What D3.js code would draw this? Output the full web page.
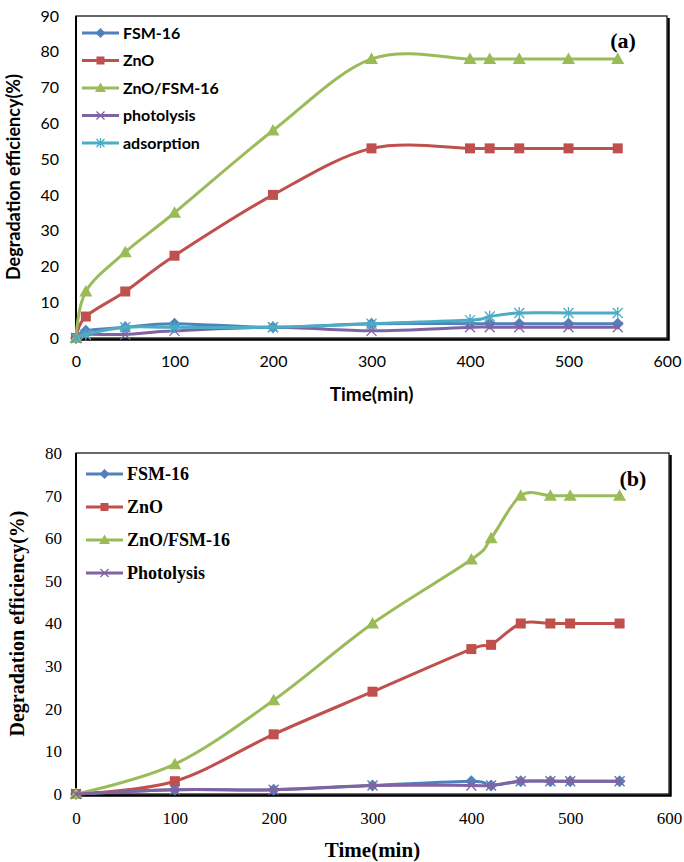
<!DOCTYPE html>
<html><head><meta charset="utf-8">
<script src="https://cdn.jsdelivr.net/npm/d3@7"></script>
<style>body{margin:0;background:#fff}svg{display:block}</style>
</head><body>
<svg id="c" width="684" height="862"></svg>
<script>
// ---------- DATA ----------
const timeA = [0, 10, 50, 100, 200, 300, 400, 420, 450, 500, 550];
const fsmA = [0, 2, 3, 4, 3, 4, 4, 4, 4, 4, 4];
const znoA = [0, 6, 13, 23, 40, 53, 53, 53, 53, 53, 53];
const znoFsmA = [0, 13, 24, 35, 58, 78, 78, 78, 78, 78, 78];
const photoA = [0, 1, 1, 2, 3, 2, 3, 3, 3, 3, 3];
const adsA = [0, 1, 3, 3, 3, 4, 5, 6, 7, 7, 7];
const namesA = ["FSM-16", "ZnO", "ZnO/FSM-16", "photolysis", "adsorption"];

const timeB = [0, 100, 200, 300, 400, 420, 450, 480, 500, 550];
const fsmB = [0, 1, 1, 2, 3, 2, 3, 3, 3, 3];
const znoB = [0, 3, 14, 24, 34, 35, 40, 40, 40, 40];
const znoFsmB = [0, 7, 22, 40, 55, 60, 70, 70, 70, 70];
const photoB = [0, 1, 1, 2, 2, 2, 3, 3, 3, 3];
const namesB = ["FSM-16", "ZnO", "ZnO/FSM-16", "Photolysis"];

const xTicks = [0, 100, 200, 300, 400, 500, 600];
const yTicksA = [0, 10, 20, 30, 40, 50, 60, 70, 80, 90];
const yTicksB = [0, 10, 20, 30, 40, 50, 60, 70, 80];

// ---------- STYLE ----------
const colors = ["#4F81BD", "#C0504D", "#9BBB59", "#8064A2", "#4BACC6"];
const markers = ["diamond", "square", "triangle", "x", "star"];
const svg = d3.select("#c");

function drawMarker(g, type, color, cx, cy, s) {
  const h = s / 2;
  if (type === "diamond") {
    g.append("path").attr("d", `M${cx},${cy - h - 1}L${cx + h + 1},${cy}L${cx},${cy + h + 1}L${cx - h - 1},${cy}Z`).attr("fill", color);
  } else if (type === "square") {
    g.append("rect").attr("x", cx - h).attr("y", cy - h).attr("width", s).attr("height", s).attr("fill", color);
  } else if (type === "triangle") {
    g.append("path").attr("d", `M${cx},${cy - h - 1.5}L${cx + h + 1.5},${cy + h}L${cx - h - 1.5},${cy + h}Z`).attr("fill", color);
  } else if (type === "x") {
    g.append("path").attr("d", `M${cx - h},${cy - h}L${cx + h},${cy + h}M${cx - h},${cy + h}L${cx + h},${cy - h}`).attr("stroke", color).attr("stroke-width", 1.3).attr("fill", "none");
  } else if (type === "star") {
    g.append("path").attr("d", `M${cx - h},${cy - h}L${cx + h},${cy + h}M${cx - h},${cy + h}L${cx + h},${cy - h}M${cx},${cy - h - 1}L${cx},${cy + h + 1}`).attr("stroke", color).attr("stroke-width", 1.3).attr("fill", "none");
  }
}

function chart(cfg) {
  const g = svg.append("g");
  const x = d3.scaleLinear().domain([0, 600]).range([cfg.left, cfg.right]);
  const y = d3.scaleLinear().domain([0, cfg.ymax]).range([cfg.bottom, cfg.top]);

  // frame with shadow
  g.append("path").attr("d", `M${cfg.right + 1.5},${cfg.top + 2}V${cfg.bottom + 1.5}H${cfg.left + 2}`)
    .attr("stroke", "#000").attr("stroke-width", 2.5).attr("fill", "none");
  g.append("rect").attr("x", cfg.left).attr("y", cfg.top).attr("width", cfg.right - cfg.left).attr("height", cfg.bottom - cfg.top)
    .attr("fill", "none").attr("stroke", "#1a1a1a").attr("stroke-width", 1.3);
  g.append("line").attr("x1", cfg.left).attr("x2", cfg.left).attr("y1", cfg.top).attr("y2", cfg.bottom)
    .attr("stroke", "#000").attr("stroke-width", 2);

  // axes (labels only)
  const ax = g.append("g").attr("transform", `translate(0,${cfg.bottom})`)
    .call(d3.axisBottom(x).tickValues(xTicks).tickSize(0).tickPadding(cfg.xPad));
  ax.select(".domain").remove();
  ax.selectAll("text").attr("font-family", cfg.tickFont).attr("font-size", cfg.tickSize).attr("fill", "#000");
  const ay = g.append("g").attr("transform", `translate(${cfg.left},0)`)
    .call(d3.axisLeft(y).tickValues(cfg.yTicks).tickSize(0).tickPadding(cfg.yPad));
  ay.select(".domain").remove();
  ay.selectAll("text").attr("font-family", cfg.tickFont).attr("font-size", cfg.tickSize).attr("fill", "#000");

  // titles
  g.append("text").attr("x", (cfg.left + cfg.right) / 2).attr("y", cfg.xTitleY).attr("text-anchor", "middle")
    .attr("font-family", cfg.titleFont).attr("font-weight", "bold").attr("font-size", cfg.xTitleSize).text("Time(min)");
  g.append("text").attr("transform", `translate(${cfg.yTitleX},${(cfg.top + cfg.bottom) / 2}) rotate(-90)`).attr("text-anchor", "middle")
    .attr("font-family", cfg.titleFont).attr("font-weight", "bold").attr("font-size", cfg.yTitleSize).text("Degradation efficiency(%)");
  g.append("text").attr("x", cfg.labelX).attr("y", cfg.labelY).attr("text-anchor", "middle")
    .attr("font-family", "Liberation Serif, serif").attr("font-weight", "bold").attr("font-size", 22).text(cfg.label);

  // series
  const line = d3.line().x(d => x(d[0])).y(d => y(d[1])).curve(d3.curveCardinal.tension(0));
  cfg.series.forEach((vals, i) => {
    const pts = cfg.time.map((t, j) => [t, vals[j]]);
    const sg = g.append("g");
    sg.append("path").datum(pts).attr("d", line).attr("fill", "none").attr("stroke", colors[i]).attr("stroke-width", 3).attr("stroke-linejoin", "round");
    pts.forEach(p => drawMarker(sg, markers[i], colors[i], x(p[0]), y(p[1]), 10));
  });

  // legend
  cfg.names.forEach((n, i) => {
    const ly = cfg.legY + i * cfg.legStep;
    const lg = g.append("g");
    lg.append("line").attr("x1", cfg.legX).attr("x2", cfg.legX + 37).attr("y1", ly).attr("y2", ly)
      .attr("stroke", colors[i]).attr("stroke-width", 3);
    drawMarker(lg, markers[i], colors[i], cfg.legX + 18.5, ly, 8);
    lg.append("text").attr("x", cfg.legX + 41).attr("y", ly).attr("dy", "0.36em")
      .attr("font-family", cfg.titleFont).attr("font-weight", "bold").attr("font-size", cfg.legSize).text(n);
  });
}

chart({
  left: 76, right: 667, top: 16, bottom: 338, ymax: 90, yTicks: yTicksA,
  time: timeA, series: [fsmA, znoA, znoFsmA, photoA, adsA], names: namesA,
  tickFont: "Lato, sans-serif", tickSize: 16, xPad: 18, yPad: 17,
  titleFont: "Lato, sans-serif", xTitleY: 401, xTitleSize: 19, yTitleX: 20, yTitleSize: 18,
  label: "(a)", labelX: 623, labelY: 48,
  legX: 82, legY: 33, legStep: 27.5, legSize: 16
});
chart({
  left: 76, right: 669, top: 453, bottom: 794, ymax: 80, yTicks: yTicksB,
  time: timeB, series: [fsmB, znoB, znoFsmB, photoB], names: namesB,
  tickFont: "Liberation Serif, serif", tickSize: 17, xPad: 18, yPad: 14,
  titleFont: "Liberation Serif, serif", xTitleY: 857, xTitleSize: 21, yTitleX: 24, yTitleSize: 20,
  label: "(b)", labelX: 633, labelY: 486,
  legX: 86, legY: 474, legStep: 33, legSize: 18
});
</script>
</body></html>
